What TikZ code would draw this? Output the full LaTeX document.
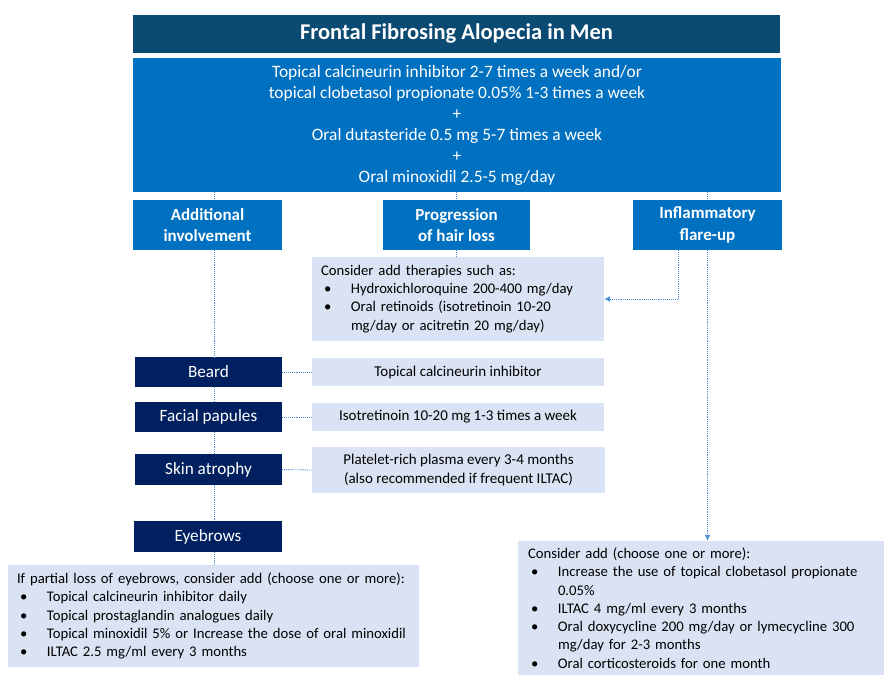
\documentclass[tikz,border=0pt]{standalone}
\usepackage{fontspec}
\setmainfont{Carlito}
\usetikzlibrary{arrows.meta}

\definecolor{titleblue}{HTML}{0B4A72}
\definecolor{mainblue}{HTML}{0070C0}
\definecolor{navy}{HTML}{002060}
\definecolor{paleblue}{HTML}{DAE3F3}
\definecolor{dotblue}{HTML}{4A8FD8}

\newcommand{\bul}{\hspace*{3pt}\makebox[27pt][l]{\textbullet}}
\newcommand{\cont}{\hspace*{30pt}}

\begin{document}
\begin{tikzpicture}[x=1pt,y=-1pt,
    titlebox/.style={fill=titleblue,text=white,inner sep=0pt,font=\fontsize{22.5}{26}\selectfont\bfseries},
    mainbox/.style={fill=mainblue,text=white,inner sep=0pt,align=center,font=\fontsize{17.4}{21}\selectfont},
    headbox/.style={fill=mainblue,text=white,inner sep=0pt,align=center,minimum height=50pt,font=\fontsize{17}{21.5}\selectfont\bfseries},
    sitebox/.style={fill=navy,text=white,inner sep=0pt,minimum width=147pt,font=\fontsize{17.2}{20}\selectfont},
    treatbox/.style={fill=paleblue,text=black,inner sep=0pt,align=center,minimum width=292pt,font=\fontsize{15}{18.5}\selectfont},
    listbox/.style={fill=paleblue,text=black,inner xsep=9pt,inner ysep=0pt,align=left,font=\fontsize{14.7}{18.3}\selectfont},
    link/.style={dotblue,densely dotted,line width=0.9pt},
    linkarrow/.style={link,-{Latex[length=6pt,width=6pt]}}]
    \useasboundingbox (0,0) rectangle (884,675);
    \coordinate (spine) at (214,0);

    \node[titlebox,minimum width=647pt,minimum height=38pt] (title) at (456.5,34) {Frontal Fibrosing Alopecia in Men};
    \node[mainbox,minimum width=648pt,minimum height=134pt] (main) at (457,125)
        {Topical calcineurin inhibitor 2-7 times a week and/or\\
         topical clobetasol propionate 0.05\% 1-3 times a week\\
         +\\
         Oral dutasteride 0.5 mg 5-7 times a week\\
         +\\
         Oral minoxidil 2.5-5 mg/day};

    \node[headbox,minimum width=149pt] (add) at (207.5,225) {Additional\\involvement};
    \node[headbox,minimum width=147pt] (prog) at (456.5,225) {Progression\\of hair loss};
    \node[headbox,minimum width=149pt] (infl) at (707.5,225) {Inflammatory\\flare-up};

    \node[listbox,minimum width=292pt,minimum height=84pt,text width=274pt] (progtx) at (458,299)
        {Consider add therapies such as:\\
         \bul Hydroxichloroquine 200-400 mg/day\\
         \bul Oral retinoids (isotretinoin 10-20\\
         \cont mg/day or acitretin 20 mg/day)};

    \node[sitebox,minimum height=30pt] (beard) at (208.5,372) {Beard};
    \node[sitebox,minimum height=30pt] (facial) at (208.5,417) {Facial papules};
    \node[sitebox,minimum height=31pt] (skin) at (208.5,469.5) {Skin atrophy};
    \node[sitebox,minimum width=148pt,minimum height=31pt] (brows) at (208,536.5) {Eyebrows};

    \node[treatbox,minimum height=28pt] (beardtx) at (458,372) {Topical calcineurin inhibitor};
    \node[treatbox,minimum height=28pt] (facialtx) at (458,417) {Isotretinoin 10-20 mg 1-3 times a week};
    \node[treatbox,minimum width=293pt,minimum height=46pt] (skintx) at (458.5,470)
        {Platelet-rich plasma every 3-4 months\\(also recommended if frequent ILTAC)};

    \node[listbox,minimum width=411pt,minimum height=102pt,text width=393pt] (browstx) at (213.5,616)
        {If partial loss of eyebrows, consider add (choose one or more):\\
         \bul Topical calcineurin inhibitor daily\\
         \bul Topical prostaglandin analogues daily\\
         \bul Topical minoxidil 5\% or Increase the dose of oral minoxidil\\
         \bul ILTAC 2.5 mg/ml every 3 months};

    \node[listbox,inner xsep=10pt,minimum width=366pt,minimum height=134pt,text width=346pt] (infltx) at (701,608)
        {Consider add (choose one or more):\\
         \bul Increase the use of topical clobetasol propionate\\
         \cont 0.05\%\\
         \bul ILTAC 4 mg/ml every 3 months\\
         \bul Oral doxycycline 200 mg/day or lymecycline 300\\
         \cont mg/day for 2-3 months\\
         \bul Oral corticosteroids for one month};

    \draw[link] (main.south -| spine) -- (add.north -| spine);
    \draw[link] (main.south -| prog.north) -- (prog.north);
    \draw[link] (main.south -| infl.north) -- (infl.north);
    \draw[link] (prog.south) -- (prog.south |- progtx.north);
    \draw[linkarrow] ([xshift=-29.5pt]infl.south) |- (progtx.east);
    \draw[linkarrow] (infl.south) -- (infl.south |- infltx.north);

    \draw[link] (add.south -| spine) -- (beard.north -| spine);
    \draw[link] (beard.south -| spine) -- (facial.north -| spine);
    \draw[link] (facial.south -| spine) -- (skin.north -| spine);
    \draw[link] (skin.south -| spine) -- (brows.north -| spine);
    \draw[link] (brows.south -| spine) -- (browstx.north -| spine);
    \draw[link] (beard.east) -- (beardtx.west);
    \draw[link] (facial.east) -- (facialtx.west);
    \draw[link] (skin.east) -- (skintx.west);
\end{tikzpicture}
\end{document}
